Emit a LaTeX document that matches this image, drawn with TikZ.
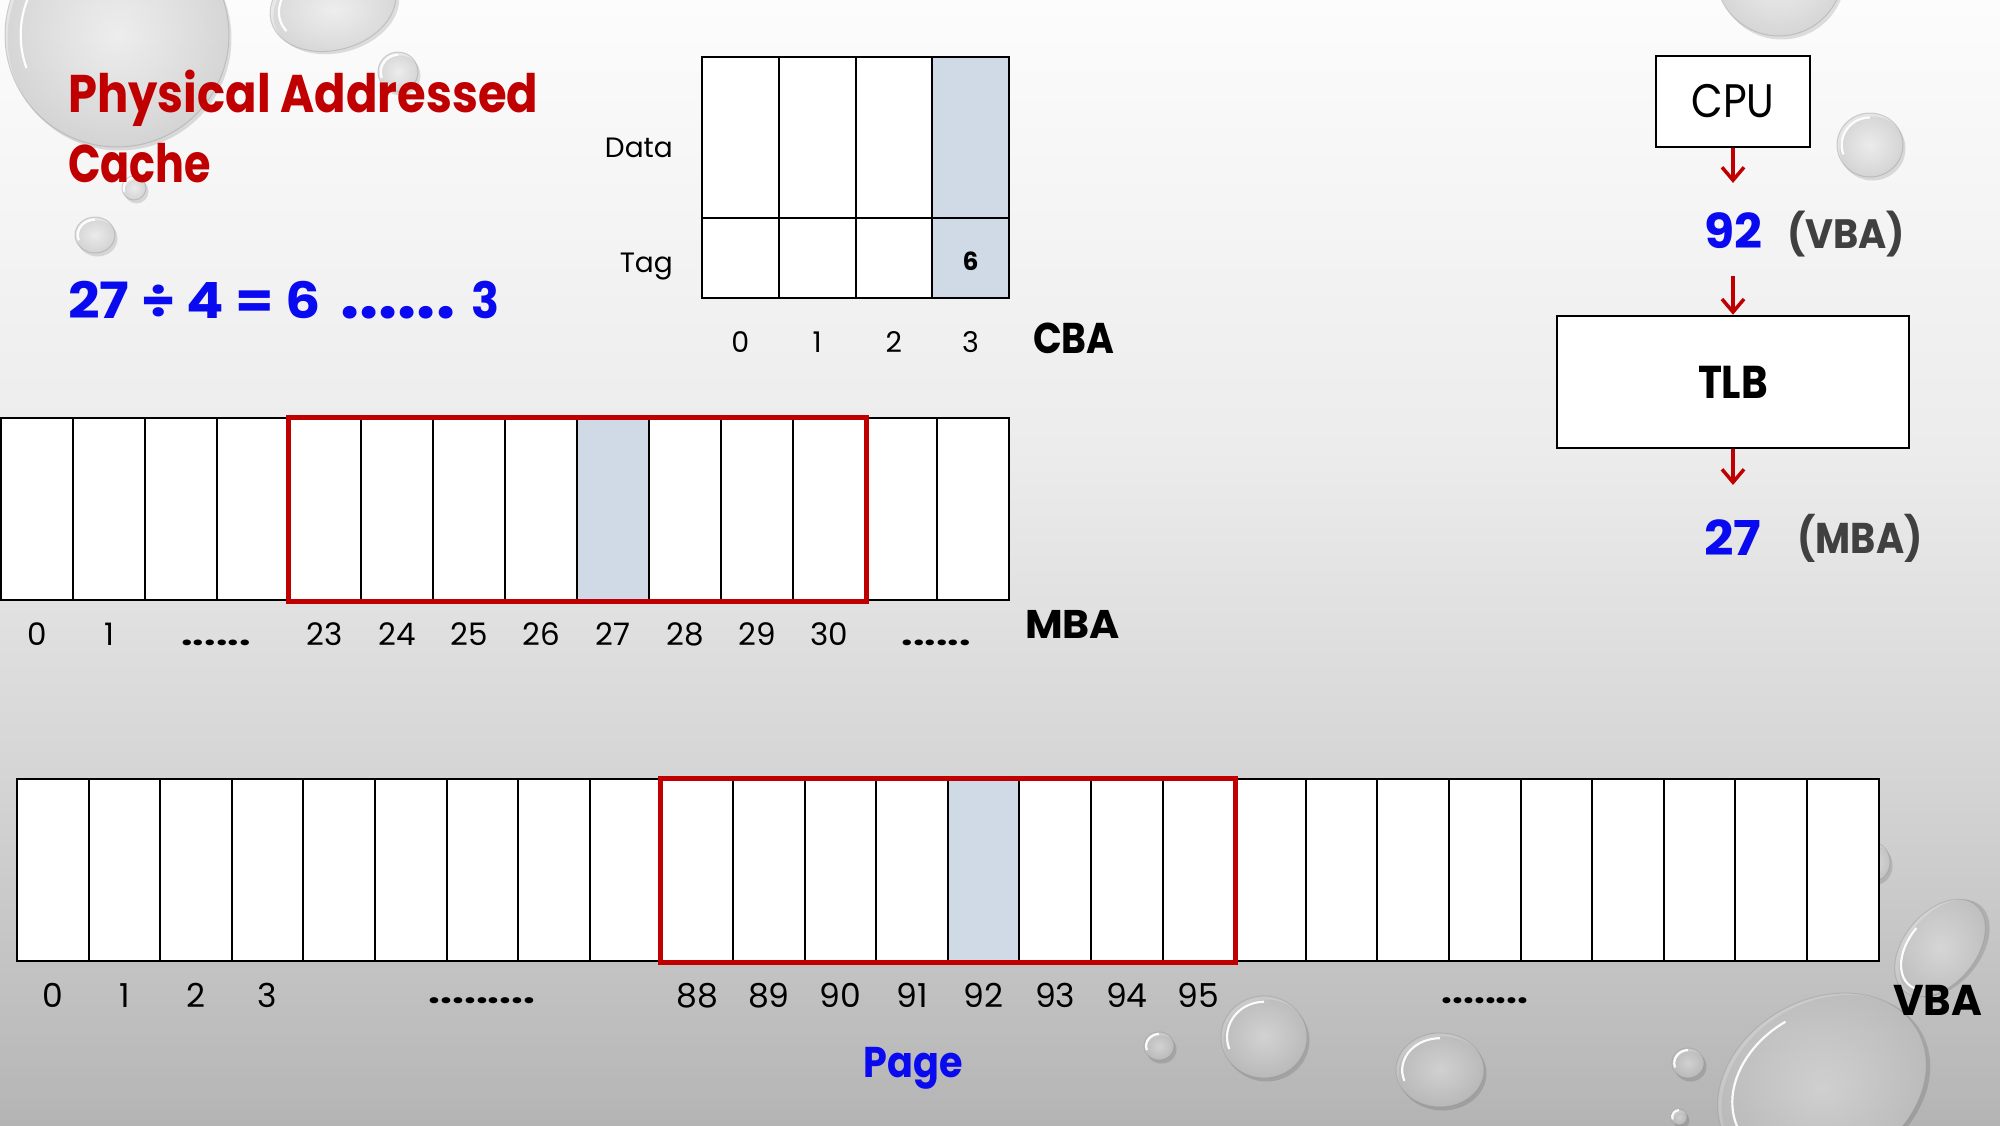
\documentclass[tikz,border=0pt]{standalone}
\usepackage{fontspec}
\setmainfont{Poppins}
\usetikzlibrary{arrows.meta,calc}
\definecolor{tred}{RGB}{192,0,0}
\definecolor{tblue}{RGB}{10,10,240}
\definecolor{tgray}{RGB}{64,64,64}
\definecolor{cshade}{RGB}{207,218,230}
\definecolor{bgtop}{RGB}{252,252,252}
\definecolor{bgmid}{RGB}{236,236,236}
\definecolor{bgmidb}{RGB}{212,212,212}
\definecolor{bgbot}{RGB}{180,180,180}
\pgfdeclareverticalshading{bgshade}{100bp}{color(0bp)=(bgbot); color(25bp)=(bgbot); color(40bp)=(bgmidb); color(55bp)=(bgmid); color(75bp)=(bgtop); color(100bp)=(bgtop)}
\newcommand\fitw[2]{\resizebox{#1pt}{\height}{#2}}
\newcommand\wdrop[5]{%
  \begin{scope}[shift={(#1,#2)},rotate=#5]
    \fill[black,opacity=0.12] (2.5,3.5) ellipse [x radius=#3, y radius=#4];
    \shade[inner color=white, outer color=black!18, opacity=0.5] (0,0) ellipse [x radius=#3, y radius=#4];
    \draw[black!45, opacity=0.35, line width=1pt] (0,0) ellipse [x radius=#3, y radius=#4];
    \draw[white, line width=2.2pt, opacity=0.95] (160:{0.86*#3} and {0.86*#4}) arc [start angle=160, end angle=270, x radius=0.86*#3, y radius=0.86*#4];
  \end{scope}}
\begin{document}
\begin{tikzpicture}[x=1pt,y=-1pt,
  lbl/.style={inner sep=0pt, anchor=base, font=\fontsize{#1}{#1}\selectfont},
  bl/.style={inner sep=0pt, anchor=base, font=\fontsize{#1}{#1}\selectfont\bfseries},
  cellbox/.style={draw=black, line width=2pt, fill=white, inner sep=0pt, anchor=north west},
  redframe/.style={draw=tred, line width=5pt},
  flow/.style={draw=tred, line width=3.5pt, -{Straight Barb[length=13pt,width=22pt,line width=3.5pt]}},
  box/.style={draw=black, line width=2.5pt, fill=white, inner sep=0pt}]
\useasboundingbox (0,0) rectangle (2000,1125);
\clip (0,0) rectangle (2000,1125);
\shade[shading=bgshade] (0,0) rectangle (2000,1125);

% water drops
\wdrop{117}{35}{112}{112}{0}
\wdrop{333}{5}{64}{45}{15}
\wdrop{398}{72}{20}{20}{0}
\wdrop{134}{188}{12}{12}{0}
\wdrop{95}{235}{20}{18}{0}
\wdrop{1779}{-28}{64}{64}{0}
\wdrop{1870}{145}{33}{32}{0}
\wdrop{1874}{862}{16}{19}{0}
\wdrop{1159}{1046}{15}{14}{0}
\wdrop{1264}{1037}{43}{41}{0}
\wdrop{1440}{1070}{44}{37}{0}
\wdrop{1688}{1063}{16}{15}{0}
\wdrop{1679}{1117}{8}{8}{0}
\wdrop{1822}{1085}{110}{85}{30}
\wdrop{1940}{948}{56}{36}{50}

% title and equation
\node[bl=53, anchor=base west, text=tred] (t1) at (68,112) {\fitw{470}{Physical Addressed}};
\node[bl=53, anchor=base west, text=tred] (t2) at (68,182) {\fitw{143}{Cache}};
\node[bl=50, anchor=base west, text=tblue] (eqa) at (68,318) {\fitw{253}{27 ÷ 4 = 6}};
\node[bl=68, anchor=base west, text=tblue] (eqd) at (340,318) {......};
\node[bl=50, anchor=base west, text=tblue] (eqb) at (471,318) {\fitw{28}{3}};

% cache
\foreach \i in {0,1,2}{
  \node[cellbox, minimum width=76.75pt, minimum height=161pt] (d\i) at (701+76.75*\i,56) {};
  \node[cellbox, minimum width=76.75pt, minimum height=80pt] (g\i) at (701+76.75*\i,217) {};
}
\node[cellbox, fill=cshade, minimum width=76.75pt, minimum height=161pt] (d3) at (701+76.75*3,56) {};
\node[cellbox, fill=cshade, minimum width=76.75pt, minimum height=80pt] (g3) at (701+76.75*3,217) {};
\node[bl=25] (six) at ($(g3.center)+(0,12)$) {6};
\node[lbl=28, anchor=base east] (datal) at (673,157) {Data};
\node[lbl=28, anchor=base east] (tagl) at (673,272) {Tag};
\foreach \i in {0,1,2,3}{
  \node[lbl=28.5] (cl\i) at ($(g\i.south)+(0,53)$) {\i};
}
\node[bl=43, anchor=base west] (cba) at (1033,353) {\fitw{81.5}{CBA}};

% main memory (MBA)
\foreach \i in {0,...,7,9,10,...,13}{
  \node[cellbox, minimum width=72pt, minimum height=182pt] (m\i) at (72*\i,417) {};
}
\node[cellbox, fill=cshade, minimum width=72pt, minimum height=182pt] (m8) at (72*8,417) {};
\draw[redframe] (m4.north west) rectangle (m11.south east);
\node[lbl=31] (ml0) at ($(m0.south)+(0,44)$) {0};
\node[lbl=31] (ml1) at ($(m1.south)+(0,44)$) {1};
\node[lbl=31] (mdots1) at ($(m3.south west)+(0,44)$) {\fitw{69}{\bfseries ......}};
\foreach \i/\t in {4/23,5/24,6/25,7/26,8/27,9/28,10/29,11/30}{
  \node[lbl=31] (ml\i) at ($(m\i.south)+(0,44)$) {\t};
}
\node[lbl=31] (mdots2) at ($(m13.south west)+(0,44)$) {\fitw{69}{\bfseries ......}};
\node[bl=40, anchor=base west] (mba) at (1025,638) {\fitw{95}{MBA}};

% virtual memory (VBA)
\foreach \i in {0,...,12,14,15,...,25}{
  \node[cellbox, minimum width=71.6pt, minimum height=182pt] (v\i) at (16+71.6*\i,778) {};
}
\node[cellbox, fill=cshade, minimum width=71.6pt, minimum height=182pt] (v13) at (16+71.6*13,778) {};
\draw[redframe] (v9.north west) rectangle (v16.south east);
\foreach \i in {0,1,2,3}{
  \node[lbl=33] (vl\i) at ($(v\i.south)+(0,45)$) {\i};
}
\node[lbl=33] (vdots1) at (482,1003) {\fitw{107}{\bfseries .........}};
\foreach \i/\t in {9/88,10/89,11/90,12/91,13/92,14/93,15/94,16/95}{
  \node[lbl=33] (vl\i) at ($(v\i.south)+(0,45)$) {\t};
}
\node[lbl=33] (vdots2) at (1485,1003) {\fitw{87}{\bfseries ........}};
\node[bl=43, anchor=base west] (vba) at (1893,1015) {\fitw{89}{VBA}};
\node[bl=43, text=tblue] (page) at (913,1077) {\fitw{99}{Page}};

% CPU / TLB flow
\node[box, minimum width=154pt, minimum height=91pt, font=\fontsize{47}{47}\selectfont] (cpu) at (1733,101.5) {\fitw{83}{CPU}};
\node[bl=48, text=tblue] (n92) at (1733,248) {\fitw{58}{92}};
\node[bl=41, text=tgray] (vbap) at (1846,248) {\fitw{118}{(VBA)}};
\node[box, minimum width=352pt, minimum height=132pt, font=\fontsize{46}{46}\selectfont\bfseries] (tlb) at (1733,382) {\fitw{70}{TLB}};
\node[bl=48, text=tblue] (n27) at (1733,555) {\fitw{57}{27}};
\node[bl=43, text=tgray] (mbap) at (1860,553) {\fitw{125}{(MBA)}};
\draw[flow, shorten >=29pt] (cpu.south) -- (cpu.south |- n92.north);
\draw[flow, shorten <=28pt] (n92.south -| tlb.north) -- (tlb.north);
\draw[flow, shorten >=34pt] (tlb.south) -- (tlb.south |- n27.north);
\end{tikzpicture}
\end{document}
